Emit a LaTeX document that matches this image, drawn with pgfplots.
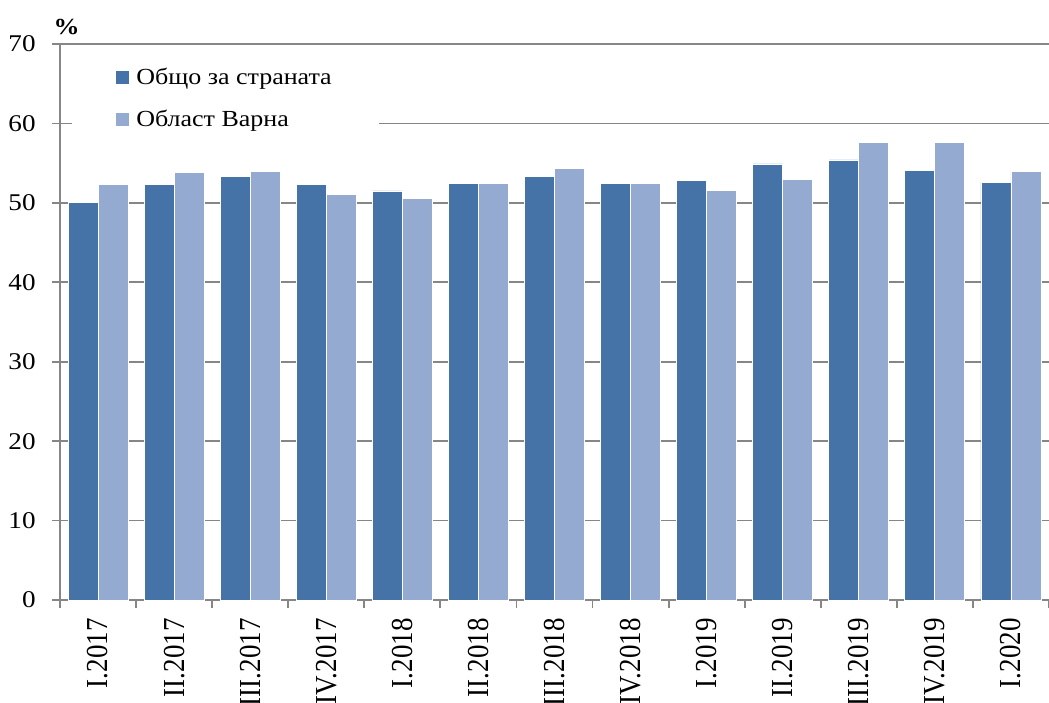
\documentclass[border=0pt]{standalone}
\usepackage{pgfplots}
\pgfplotsset{compat=1.18}
\usepackage{fontspec}
\setmainfont{Liberation Serif}
\usepackage{graphicx}
\definecolor{darkb}{HTML}{4572A7}
\definecolor{lightb}{HTML}{94AAD0}
\definecolor{gridc}{HTML}{868686}
\newcommand\sx[1]{\scalebox{1}[1.13]{#1}}
\newcommand\sy[1]{\scalebox{1.13}[1]{#1}}
\begin{document}
\begin{tikzpicture}
\begin{axis}[
  scale only axis, width=494.5pt, height=278pt,
  clip=false,
  ymin=0, ymax=70, ytick={0,10,...,70},
  xmin=-0.5, xmax=12.5,
  axis x line=bottom, axis y line=left,
  axis line style={gridc, line width=0.9pt, -},
  ymajorgrids, grid style={gridc, line width=0.9pt},
  ybar=0pt, bar width=15pt,
  xtick={-0.5,0.5,...,12.5},
  xticklabels={},
  extra x ticks={0,...,12},
  extra x tick labels={\sx{I.2017},\sx{II.2017},\sx{III.2017},\sx{IV.2017},\sx{I.2018},\sx{II.2018},\sx{III.2018},\sx{IV.2018},\sx{I.2019},\sx{II.2019},\sx{III.2019},\sx{IV.2019},\sx{I.2020}},
  extra x tick style={major tick length=0pt, grid=none,
    xticklabel style={font=\fontsize{13.5}{15}\selectfont, rotate=90, anchor=east, inner sep=0pt, xshift=-9pt}},
  tick align=outside,
  major tick length=4pt,
  tick style={gridc, line width=0.9pt},
  /pgf/number format/assume math mode=true,
  yticklabel={\sy{\pgfmathprintnumber{\tick}}},
  yticklabel style={font=\fontsize{12}{14}\selectfont, inner sep=0pt, xshift=-8pt},
  legend style={at={(rel axis cs:0.012,0.985)}, anchor=north west, fill=white, draw=none,
    inner xsep=22pt, inner ysep=6pt, font=\fontsize{11.5}{13}\selectfont, row sep=8.5pt,
    nodes={inner sep=1.5pt}},
  legend cell align=left,
  legend image code/.code={\path[#1, draw=none] (0pt,-3.25pt) rectangle (6.5pt,3.25pt);},
]
\addplot[fill=darkb, draw=white, line width=0.4pt] coordinates {
(0,50.0) (1,52.3) (2,53.3) (3,52.3) (4,51.5) (5,52.5) (6,53.3) (7,52.5) (8,52.8) (9,54.9) (10,55.4) (11,54.1) (12,52.6)};
\addplot[fill=lightb, draw=white, line width=0.4pt] coordinates {
(0,52.3) (1,53.8) (2,54.0) (3,51.1) (4,50.5) (5,52.5) (6,54.3) (7,52.5) (8,51.6) (9,53.0) (10,57.6) (11,57.6) (12,54.0)};
\legend{\hspace{2pt}\sy{Общо за страната},\hspace{2pt}\sy{Област Варна}}
\node[font=\bfseries\fontsize{11.5}{13}\selectfont, inner sep=0pt] at (rel axis cs:0,1) [xshift=3.3pt, yshift=8.5pt] {\sy{\%}};
\end{axis}
\pgfresetboundingbox
\path[use as bounding box] (-30pt,-51pt) rectangle (494.5pt,300pt);
\end{tikzpicture}
\end{document}
